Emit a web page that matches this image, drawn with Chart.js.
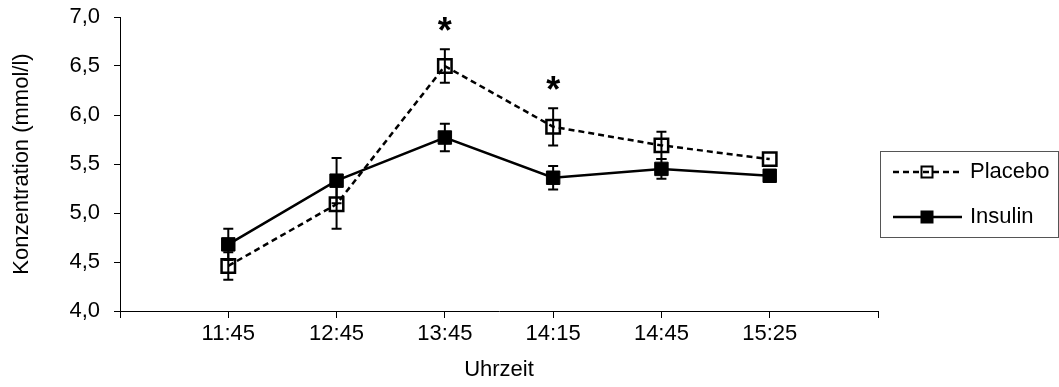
<!DOCTYPE html>
<html>
<head>
<meta charset="utf-8">
<script src="https://cdn.jsdelivr.net/npm/chart.js@4/dist/chart.umd.min.js"></script>
<style>
  html, body { margin: 0; padding: 0; background: #fff; }
  #wrap { width: 1059px; height: 387px; position: relative; }
</style>
</head>
<body>
<div id="wrap"><canvas id="chart"></canvas></div>
<script>
// values
const timeLabels  = ['11:45', '12:45', '13:45', '14:15', '14:45', '15:25'];
const placebo     = [4.46, 5.09, 6.50, 5.88, 5.69, 5.55];
const placeboErr  = [0.14, 0.25, 0.17, 0.19, 0.14, 0];
const insulin     = [4.68, 5.33, 5.77, 5.36, 5.45, 5.38];
const insulinErr  = [0.16, 0.23, 0.14, 0.12, 0.10, 0];
const significant = ['', '', '*', '*', '', ''];
const yMin = 4, yMax = 7, yStep = 0.5;

const FONT = 'Liberation Sans, Arial, sans-serif';
const FS = 22;
const DASH = [6, 4];

// pad with an empty slot on each side, like the original axis
const pad = arr => [null, ...arr, null];
const xLabels = ['', ...timeLabels, ''];

// ── Error bars + asterisks ─────────────────────────
const errorBars = {
  id: 'errorBars',
  afterDatasetsDraw(chart) {
    const { ctx, scales: { x, y } } = chart;
    const sets = [[placebo, placeboErr], [insulin, insulinErr]];
    ctx.save();
    ctx.strokeStyle = '#000';
    ctx.lineWidth = 2;
    sets.forEach(([vals, errs]) => {
      vals.forEach((v, i) => {
        const e = errs[i];
        if (!e) return;
        const px = x.getPixelForValue(i + 1);
        const top = y.getPixelForValue(v + e);
        const bot = y.getPixelForValue(v - e);
        ctx.beginPath();
        ctx.moveTo(px, top); ctx.lineTo(px, bot);
        ctx.moveTo(px - 5, top); ctx.lineTo(px + 5, top);
        ctx.moveTo(px - 5, bot); ctx.lineTo(px + 5, bot);
        ctx.stroke();
      });
    });
    // significance marks above placebo
    ctx.fillStyle = '#000';
    ctx.font = 'bold 36px ' + FONT;
    ctx.textAlign = 'center';
    ctx.textBaseline = 'alphabetic';
    significant.forEach((s, i) => {
      if (!s) return;
      const px = x.getPixelForValue(i + 1);
      const top = y.getPixelForValue(placebo[i] + placeboErr[i]);
      ctx.fillText(s, px, top - 6);
    });
    ctx.restore();
  }
};

// ── Legend box ─────────────────────────────────────
const boxLegend = {
  id: 'boxLegend',
  afterDraw(chart) {
    const { ctx } = chart;
    const bx = 880.5, by = 151.5, bw = 178, bh = 86;
    ctx.save();
    ctx.strokeStyle = '#555';
    ctx.lineWidth = 1;
    ctx.strokeRect(bx, by, bw, bh);
    const rows = [
      { label: 'Placebo', y: 172, dash: DASH, fill: false },
      { label: 'Insulin', y: 217, dash: [], fill: true }
    ];
    rows.forEach(r => {
      ctx.strokeStyle = '#000';
      ctx.lineWidth = 2.5;
      ctx.setLineDash(r.dash);
      ctx.beginPath();
      ctx.moveTo(893, r.y); ctx.lineTo(962, r.y);
      ctx.stroke();
      ctx.setLineDash([]);
      ctx.lineWidth = 2;
      const s = 13;
      if (r.fill) {
        ctx.fillStyle = '#000';
        ctx.fillRect(927 - s / 2, r.y - s / 2, s, s);
      } else {
        ctx.strokeRect(927 - s / 2 + 1, r.y - s / 2 + 1, s - 2, s - 2);
      }
      ctx.fillStyle = '#000';
      ctx.font = FS + 'px ' + FONT;
      ctx.textAlign = 'left';
      ctx.textBaseline = 'middle';
      ctx.fillText(r.label, 970, r.y);
    });
    ctx.restore();
  }
};

new Chart(document.getElementById('chart'), {
  type: 'line',
  data: {
    labels: xLabels,
    datasets: [
      {
        label: 'Placebo',
        data: pad(placebo),
        borderColor: '#000',
        borderWidth: 2.5,
        borderDash: DASH,
        tension: 0,
        pointStyle: 'rect',
        pointRadius: 9.5,
        pointBorderWidth: 2.5,
        pointBorderColor: '#000',
        pointBackgroundColor: 'rgba(0,0,0,0)'
      },
      {
        label: 'Insulin',
        data: pad(insulin),
        borderColor: '#000',
        borderWidth: 2.5,
        tension: 0,
        pointStyle: 'rect',
        pointRadius: 9.5,
        pointBorderWidth: 1,
        pointBorderColor: '#000',
        pointBackgroundColor: '#000'
      }
    ]
  },
  options: {
    responsive: true, maintainAspectRatio: false,
    animation: false,
    layout: { padding: { top: 17, right: 181, left: 0, bottom: 0 } },
    plugins: { legend: { display: false }, tooltip: { enabled: false } },
    scales: {
      x: {
        type: 'category',
        offset: false,
        grid: { drawOnChartArea: false, color: '#000', tickLength: 7, lineWidth: 1 },
        border: { color: '#000', width: 1 },
        ticks: { color: '#000', font: { size: FS, family: FONT }, padding: 3, maxRotation: 0, autoSkip: false },
        title: { display: true, text: 'Uhrzeit', color: '#000', font: { size: FS, family: FONT }, padding: { bottom: 4 } },
        afterFit(scale) {
          scale.height = 76;
          scale.paddingLeft = 0; scale.paddingRight = 0;
        }
      },
      y: {
        min: yMin, max: yMax,
        grid: { drawOnChartArea: false, color: '#000', tickLength: 6, lineWidth: 1 },
        border: { color: '#000', width: 1 },
        ticks: {
          stepSize: yStep,
          color: '#000',
          font: { size: FS, family: FONT },
          padding: 14,
          callback: v => v.toFixed(1).replace('.', ',')
        },
        title: { display: true, text: 'Konzentration (mmol/l)', color: '#000', font: { size: FS, family: FONT }, padding: { top: 9 } },
        afterFit(scale) {
          scale.width = 120;
          scale.paddingTop = 0; scale.paddingBottom = 0;
        }
      }
    }
  },
  plugins: [errorBars, boxLegend]
});
</script>
</body>
</html>
